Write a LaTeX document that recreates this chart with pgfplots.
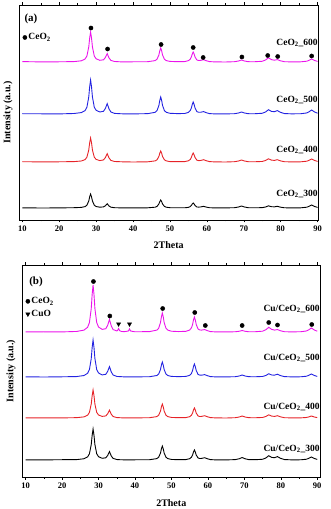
\documentclass[border=0pt]{standalone}
\usepackage{fontspec}
\setmainfont{Liberation Serif}
\usepackage{pgfplots}
\usepackage{pgfplotstable}
\pgfplotsset{compat=1.18}

\definecolor{xmag}{RGB}{235,20,235}
\definecolor{xblue}{RGB}{35,35,225}
\definecolor{xred}{RGB}{230,35,40}

% Pure CeO2 calcined at 300-600 C (intensity above each baseline)
\pgfplotstableread{
x      s300  s400  s500  s600
10     0.2   0.3   0.3   0.4
15     0.0   0.1   0.2   0.1
20     0.1   0.2   0.1   0.2
24     0.3   0.4   0.5   0.4
26     0.6   1.0   1.4   1.2
27     1.4   2.4   3.4   3.0
27.5   2.8   4.8   6.8   6.0
28     7.0   12.0  17.0  15.0
28.25  11.2  19.2  27.2  24.0
28.5   14    24    34    30
28.75  11.2  19.2  27.2  24.0
29     7.0   12.0  17.0  15.0
29.5   2.8   4.8   6.8   6.0
30     1.5   2.6   3.7   3.2
31     0.8   1.4   2.0   1.7
32     1.1   2.1   2.7   2.2
32.5   2.2   4.4   5.5   4.5
33     4.2   8.3   10.4  8.4
33.5   2.0   4.0   5.0   4.0
34     0.8   1.6   2.0   1.6
35     0.3   0.5   0.6   0.5
37     0.1   0.2   0.2   0.1
40     0.1   0.0   0.1   0.2
44     0.2   0.2   0.35  0.3
46     0.8   1.1   1.7   1.4
46.5   1.6   2.2   3.4   2.8
47     4.0   5.5   8.5   7.0
47.25  6.4   8.8   13.6  11.2
47.5   8     11    17    14
47.75  6.4   8.8   13.6  11.2
48     4.0   5.5   8.5   7.0
48.5   1.6   2.2   3.4   2.8
49     0.8   1.1   1.7   1.4
50     0.3   0.4   0.7   0.6
52     0.2   0.3   0.4   0.3
54     0.2   0.4   0.5   0.45
55     0.65  1.2   1.6   1.3
55.5   1.4   2.5   3.4   2.8
55.8   2.5   4.5   6.0   5.0
56.05  4.0   7.2   9.6   8.0
56.3   5     9     12    10
56.55  4.0   7.2   9.6   8.0
56.8   2.5   4.5   6.0   5.0
57.3   1.0   1.8   2.4   2.0
57.8   0.9   1.4   1.7   1.5
58.3   1.05  1.5   1.7   1.6
59.1   1.65  2.3   2.4   2.3
59.9   0.85  1.2   1.24  1.2
60.7   0.3   0.4   0.4   0.4
62     0.1   0.14  0.14  0.14
65     0.1   0.0   0.1   0.0
67.5   0.3   0.3   0.3   0.3
68.6   1.0   1.0   1.0   1.0
69.4   2     2     2     2
70.2   1     1     1     1
71.2   0.3   0.3   0.3   0.3
73     0.2   0.24  0.28  0.28
75     0.36  0.54  0.72  0.72
75.9   1.0   1.5   2.0   2.0
76.7   2.15  3.2   4.3   4.2
77.5   1.3   1.9   2.6   2.4
78.3   1.15  1.6   2.3   1.8
79.1   1.7   2.3   3.4   2.4
79.9   0.87  1.18  1.74  1.24
81     0.23  0.3   0.45  0.3
83     0.1   0.1   0.15  0.1
85.5   0.2   0.2   0.3   0.2
87     0.75  0.75  1.0   0.75
87.6   1.5   1.5   2.0   1.5
88.4   3     3     4     3
89.2   1.5   1.5   2.0   1.5
90     0.6   0.6   0.8   0.6
}\calcined

% Cu/CeO2 calcined at 300-600 C (intensity above each baseline)
\pgfplotstableread{
x      s300  s400  s500  s600
10     0.2   0.1   0.2   0.1
15     0.1   0.2   0.0   0.2
20     0.3   0.1   0.2   0.1
24     0.4   0.35  0.45  0.55
26     1.24  1.12  1.48  1.88
27     3.1   2.8   3.7   4.7
27.5   6.2   5.6   7.4   9.4
28     15.5  14    18.5  23.5
28.25  24.8  22.4  29.6  37.6
28.5   31    28    37    47
28.75  24.8  22.4  29.6  37.6
29     15.5  14    18.5  23.5
29.5   6.2   5.6   7.4   9.4
30     3.3   3.0   4.0   5.0
31     1.7   1.6   2.1   2.6
32     2.2   2.1   2.7   3.3
32.5   4.5   4.2   5.6   6.7
33     8.4   7.8   10.4  12.6
33.5   4.0   3.75  5.0   6.0
34     1.6   1.5   2.0   2.4
35     0.5   0.45  0.6   1.1
35.2   0.4   0.4   0.5   1.5
35.5   0.35  0.35  0.45  3.5
35.8   0.3   0.3   0.4   1.3
36.3   0.25  0.2   0.3   0.55
37     0.15  0.1   0.15  0.3
38.2   0.1   0.1   0.1   1.0
38.5   0.1   0.1   0.1   3.1
38.8   0.1   0.1   0.1   1.0
40     0.2   0.1   0.1   0.2
44     0.3   0.3   0.3   0.4
46     1.4   1.4   1.5   1.9
46.5   2.8   2.8   3.0   3.8
47     7.0   7.0   7.5   9.5
47.25  11.2  11.2  12.0  15.2
47.5   14    14    15    19
47.75  11.2  11.2  12.0  15.2
48     7.0   7.0   7.5   9.5
48.5   2.8   2.8   3.0   3.8
49     1.4   1.4   1.5   1.9
50     0.56  0.56  0.6   0.76
52     0.3   0.3   0.35  0.43
54     0.45  0.45  0.6   0.7
55     1.3   1.3   1.7   1.95
55.5   2.8   2.8   3.6   4.2
55.8   5.0   5.0   6.5   7.5
56.05  8.0   8.0   10.4  12.0
56.3   10    10    13    15
56.55  8.0   8.0   10.4  12.0
56.8   5.0   5.0   6.5   7.5
57.3   2.0   2.0   2.6   3.0
57.8   1.5   1.5   1.85  2.0
58.3   1.6   1.6   1.8   1.9
59.1   2.3   2.3   2.4   2.45
59.9   1.2   1.2   1.26  1.3
60.7   0.4   0.4   0.4   0.4
62     0.14  0.14  0.14  0.14
65     0.1   0.0   0.1   0.1
67.5   0.38  0.3   0.3   0.23
68.6   1.25  1.0   1.0   0.75
69.4   2.5   2.0   2.0   1.5
70.2   1.25  1.0   1.0   0.75
71.2   0.4   0.32  0.32  0.24
73     0.3   0.24  0.24  0.28
75     0.72  0.54  0.54  0.81
75.9   2.0   1.5   1.5   2.25
76.7   4.3   3.2   3.25  4.7
77.5   2.6   1.9   2.0   2.65
78.3   2.3   1.6   1.85  1.9
79.1   3.4   2.3   2.8   2.45
79.9   1.74  1.18  1.43  1.27
81     0.45  0.3   0.38  0.3
83     0.15  0.1   0.13  0.1
85.5   0.21  0.14  0.21  0.28
87     0.75  0.5   0.75  1.0
87.6   1.5   1.0   1.5   2.0
88.4   3.0   2.0   3.0   4.0
89.2   1.5   1.0   1.5   2.0
90     0.6   0.4   0.6   0.8
}\copper

\pgfplotsset{
  xrd/.style={
    scale only axis,
    ymin=0,
    xtick={10,20,...,90},
    minor x tick num=1,
    ytick=\empty,
    xtick pos=both,
    tick align=outside,
    major tick length=2.5pt,
    minor tick length=1.5pt,
    axis line style={line width=0.6pt},
    every tick/.style={black, line width=0.5pt},
    /pgf/number format/assume math mode=true,
    ticklabel style={font=\bfseries\fontsize{8.5}{9}\selectfont},
    xlabel={\bfseries 2Theta},
    ylabel={\bfseries Intensity (a.u.)},
    label style={font=\fontsize{10}{11}\selectfont},
    ylabel style={at={(axis description cs:-0.037,0.5)}, anchor=center},
    legend style={draw=none, fill=none, inner sep=0pt,
      font=\bfseries\fontsize{9.5}{10}\selectfont,
      row sep=2pt, nodes={inner sep=1.5pt}},
    legend cell align=left,
    legend image code/.code={\draw[#1] plot coordinates {(0.05cm,0cm)};},
    clip=false,
  },
}
\tikzset{lbl/.style={anchor=east, font=\bfseries\fontsize{9.5}{10}\selectfont, inner sep=0pt}}

\begin{document}
\begin{tikzpicture}
\useasboundingbox (0,0) rectangle (330pt,509pt);

% ---------- (a) CeO2 ----------
\begin{axis}[xrd,
  at={(19pt,289pt)}, anchor=south west,
  width=299.3pt, height=215pt,
  xmin=9.1, xmax=90.2, ymax=215,
  xlabel style={at={(axis description cs:0.5,-0.116)}, anchor=center},
  legend style={at={(axis description cs:0.012,0.875)}, anchor=north west},
]
\addplot[black, line width=0.9pt, forget plot] table[x=x, y expr=\thisrow{s300}+12]{\calcined};
\addplot[xred, line width=0.9pt, forget plot] table[x=x, y expr=\thisrow{s400}+58]{\calcined};
\addplot[xblue, line width=0.9pt, forget plot] table[x=x, y expr=\thisrow{s500}+106]{\calcined};
\addplot[xmag, line width=0.9pt, forget plot] table[x=x, y expr=\thisrow{s600}+158]{\calcined};
\addplot[only marks, mark=*, mark size=2.1pt, black] coordinates {
  (28.6,192) (33.1,171) (47.6,175.5) (56.3,172.5) (59.0,162.5)
  (69.5,163) (76.5,164.5) (79.2,163.5) (88.4,164)};
\addlegendentry{CeO\textsubscript{2}}
\node[anchor=center, font=\bfseries\fontsize{11}{12}\selectfont] at (axis description cs:0.04,0.935) {(a)};
\node[lbl] at (axis cs:90.1,177) {CeO\textsubscript{2}\_600};
\node[lbl] at (axis cs:90.1,120) {CeO\textsubscript{2}\_500};
\node[lbl] at (axis cs:90.1,70) {CeO\textsubscript{2}\_400};
\node[lbl] at (axis cs:90.1,26) {CeO\textsubscript{2}\_300};
\end{axis}

% ---------- (b) Cu/CeO2 ----------
\begin{axis}[xrd,
  at={(22pt,32pt)}, anchor=south west,
  width=298.5pt, height=212pt,
  xmin=9.0, xmax=90.9, ymax=212,
  xlabel style={at={(axis description cs:0.5,-0.121)}, anchor=center},
  legend style={at={(axis description cs:0.012,0.855)}, anchor=north west},
]
\addplot[black, line width=0.9pt, forget plot] table[x=x, y expr=\thisrow{s300}+17]{\copper};
\addplot[xred, line width=0.9pt, forget plot] table[x=x, y expr=\thisrow{s400}+59]{\copper};
\addplot[xblue, line width=0.9pt, forget plot] table[x=x, y expr=\thisrow{s500}+100]{\copper};
\addplot[xmag, line width=0.9pt, forget plot] table[x=x, y expr=\thisrow{s600}+145]{\copper};
\addplot[only marks, mark=*, mark size=2.1pt, black] coordinates {
  (28.6,195.5) (33.1,161) (47.6,168.5) (56.4,164.5) (59.3,151.5)
  (69.4,151.5) (76.7,154.5) (79.1,152) (88.5,152.5)};
\addlegendentry{CeO\textsubscript{2}}
\addplot[only marks, mark=triangle*, mark size=2.4pt, black,
  every mark/.append style={rotate=180}] coordinates {
  (35.5,153) (38.5,153)};
\addlegendentry{CuO}
\node[anchor=center, font=\bfseries\fontsize{11}{12}\selectfont] at (axis description cs:0.047,0.92) {(b)};
\node[lbl] at (axis cs:90.7,168) {Cu/CeO\textsubscript{2}\_600};
\node[lbl] at (axis cs:90.7,119) {Cu/CeO\textsubscript{2}\_500};
\node[lbl] at (axis cs:90.7,70) {Cu/CeO\textsubscript{2}\_400};
\node[lbl] at (axis cs:90.7,28) {Cu/CeO\textsubscript{2}\_300};
\end{axis}
\end{tikzpicture}
\end{document}
